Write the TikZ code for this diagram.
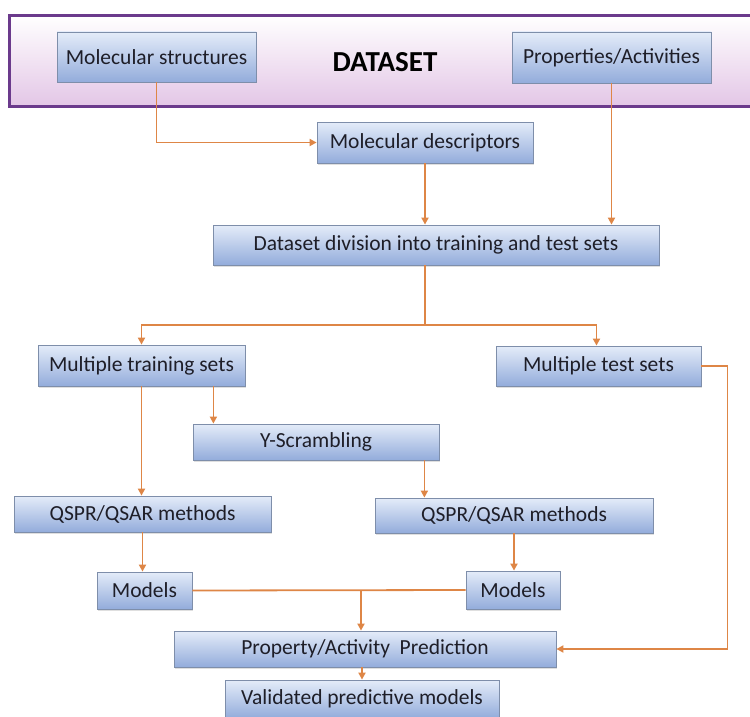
\documentclass[tikz,border=0pt]{standalone}
\usepackage{fontspec}
\setmainfont{Carlito}
\usetikzlibrary{arrows.meta,shadows}
\definecolor{boxtop}{HTML}{E4ECF9}
\definecolor{boxbot}{HTML}{93ACDB}
\definecolor{boxline}{HTML}{7E8EAA}
\definecolor{conn}{HTML}{DE8646}
\definecolor{txt}{HTML}{1E1E28}
\definecolor{purp}{HTML}{6B3A8C}
\definecolor{pinkbot}{HTML}{E3C6E6}
\tikzset{
  stepbox/.style={draw=boxline, line width=0.8pt, top color=boxtop, bottom color=boxbot,
    minimum width=#1, inner sep=0pt, text=txt, font=\fontsize{21.5}{24}\selectfont,
    drop shadow={opacity=0.25, shadow xshift=1pt, shadow yshift=-1.5pt}},
  arr/.style={draw=conn, line width=1.8pt, -{Triangle[length=7pt,width=7pt]}},
  ln/.style={draw=conn, line width=1.8pt},
}
\begin{document}
\begin{tikzpicture}[x=1pt,y=1pt]
\useasboundingbox (0,0) rectangle (750,-717);
\clip (0,0) rectangle (750,-717);
% dataset outer box
\node[draw=purp, line width=3pt, top color=white, bottom color=pinkbot,
  minimum width=760pt, minimum height=91pt, inner sep=0pt, anchor=north west] (dsbox) at (8,-14) {};
\node[font=\fontsize{29}{32}\selectfont\bfseries, text=black] (dstxt) at (385,-62) {DATASET};
\node[stepbox=199pt, minimum height=50pt] (ms) at (156.5,-57) {Molecular structures};
\node[stepbox=199pt, minimum height=51pt] (pa) at (611.5,-57.5) {Properties/Activities};
\node[stepbox=216pt, minimum height=41pt] (md) at (425,-142.5) {Molecular descriptors};
\node[stepbox=446pt, minimum height=40pt] (div) at (436,-245) {Dataset division into training and test sets};
\node[stepbox=207pt, minimum height=41pt] (tr) at (141.5,-365.5) {Multiple training sets};
\node[stepbox=205pt, minimum height=40pt] (te) at (598.5,-366) {Multiple test sets};
\node[stepbox=246pt, minimum height=36pt] (ys) at (316,-442) {Y-Scrambling};
\node[stepbox=257pt, minimum height=36pt] (ql) at (142.5,-514) {QSPR/QSAR methods};
\node[stepbox=278pt, minimum height=35pt] (qr) at (514,-515.5) {QSPR/QSAR methods};
\node[stepbox=95pt, minimum height=37pt] (ml) at (144.5,-590.5) {Models};
\node[stepbox=94pt, minimum height=38pt] (mr) at (513,-590) {Models};
\node[stepbox=382pt, minimum height=36pt] (pp) at (365,-649) {Property/Activity\ \ Prediction};
\node[stepbox=274pt, minimum height=38pt] (vm) at (362,-699) {Validated predictive models};
% connectors
\draw[arr] (ms.south) |- (md.west);
\draw[arr] (pa.south) -- (pa.south |- div.north);
\draw[arr] (md.south) -- (md.south |- div.north);
\coordinate (split) at (425,-325);
\draw[ln] (div.south -| split) -- (split);
\draw[arr] (split) -| (tr.north);
\draw[arr] (split) -| ([xshift=-2pt]te.north);
\draw[arr] (tr.south) -- (tr.south |- ql.north);
\draw[arr] ([xshift=-32pt]tr.south east) -- ([xshift=-32pt]tr.south east |- ys.north);
\draw[arr] ([xshift=-15pt]ys.south east) -- ([xshift=-15pt]ys.south east |- qr.north);
\draw[arr] (ql.south) -- (ql.south |- ml.north);
\draw[arr] (qr.south) -- (qr.south |- mr.north);
\draw[ln] (ml.east) -- (mr.west);
\coordinate (mj) at (361,-590);
\draw[arr] (mj) -- (mj |- pp.north);
\draw[arr] (te.east) -- ++(26,0) |- (pp.east);
\draw[arr] (pp.south -| vm.north) -- (vm.north);
\end{tikzpicture}
\end{document}
